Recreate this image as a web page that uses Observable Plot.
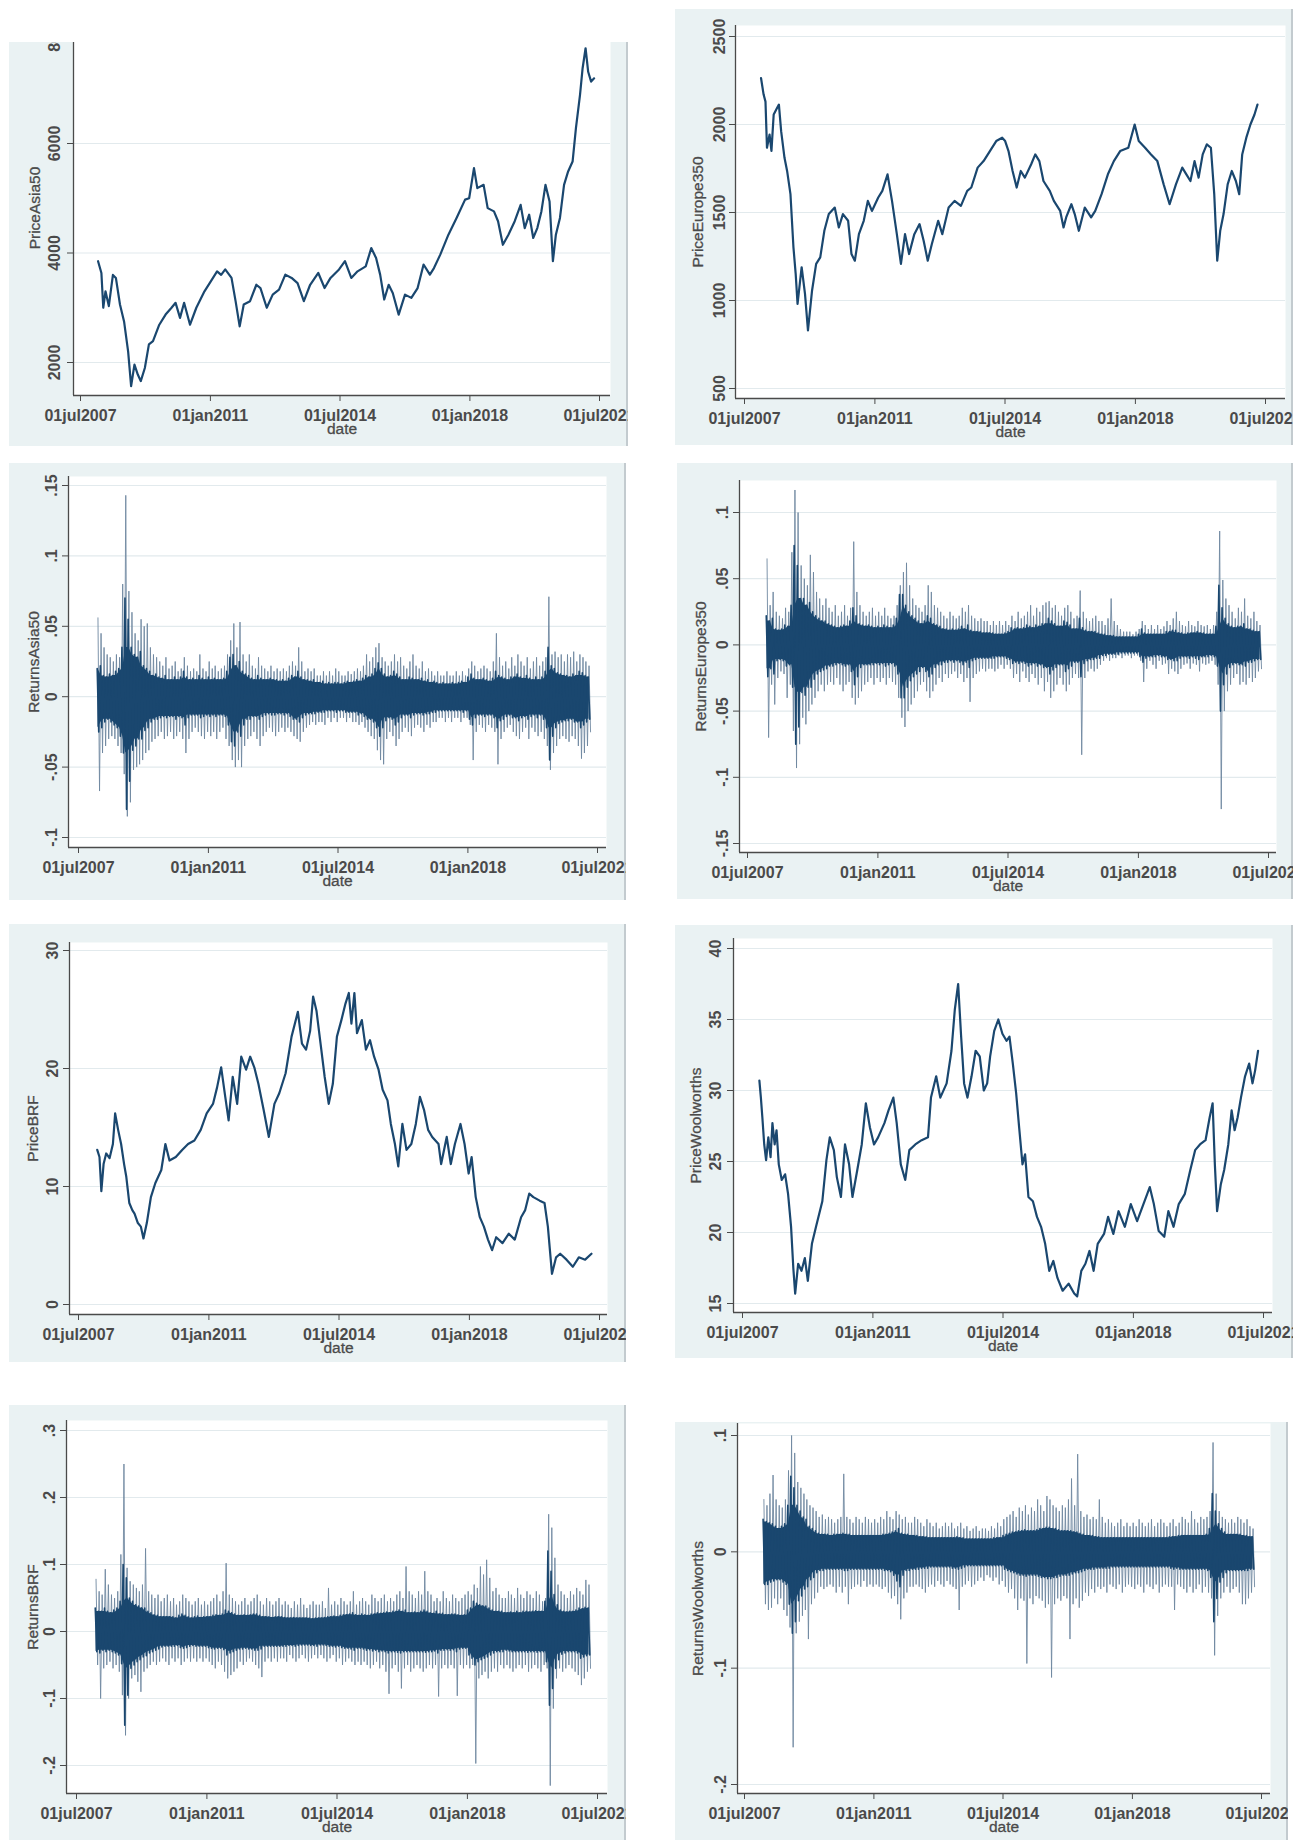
<!DOCTYPE html>
<html><head><meta charset="utf-8">
<script src="https://cdn.jsdelivr.net/npm/d3@7"></script>
<script src="https://cdn.jsdelivr.net/npm/@observablehq/plot@0.6"></script>
<style>
html,body{margin:0;padding:0;background:#fff;}
#page{position:relative;width:1304px;height:1840px;overflow:hidden;background:#fff;}
.panel{position:absolute;overflow:hidden;background:#eaf2f3;box-shadow:inset -2px 0 0 #c3cbcf;}
.panel svg{position:absolute;left:0;}
</style></head><body><div id="page"></div>
<script>
// ---------- x axis ticks ----------
const xTickDates = ["2007-07-01","2011-01-01","2014-07-01","2018-01-01","2021-07-01"];
const xTickLabels = ["01jul2007","01jan2011","01jul2014","01jan2018","01jul2021"];

// ---------- price series: [decimal year, value] ----------
const priceAsia50 = [[2007.97,3850],[2008.06,3635],[2008.11,3000],[2008.17,3300],[2008.26,3030],[2008.37,3600],[2008.45,3545],[2008.56,3060],[2008.67,2750],[2008.78,2200],[2008.86,1570],[2008.95,1960],[2009.04,1780],[2009.12,1660],[2009.23,1900],[2009.34,2330],[2009.45,2390],[2009.62,2690],[2009.79,2875],[2009.95,3000],[2010.06,3090],[2010.18,2815],[2010.29,3090],[2010.45,2690],[2010.62,3000],[2010.84,3300],[2011.07,3545],[2011.18,3665],[2011.29,3600],[2011.40,3700],[2011.57,3545],[2011.68,3120],[2011.79,2660],[2011.90,3060],[2012.07,3120],[2012.24,3420],[2012.35,3360],[2012.52,3000],[2012.68,3240],[2012.85,3330],[2013.02,3605],[2013.19,3545],[2013.35,3450],[2013.52,3120],[2013.69,3420],[2013.91,3635],[2014.08,3360],[2014.24,3545],[2014.47,3700],[2014.63,3850],[2014.80,3545],[2014.97,3665],[2015.19,3755],[2015.34,4090],[2015.47,3910],[2015.58,3605],[2015.69,3150],[2015.81,3420],[2015.92,3270],[2016.08,2875],[2016.25,3240],[2016.42,3180],[2016.59,3360],[2016.75,3790],[2016.92,3605],[2017.03,3725],[2017.20,3970],[2017.42,4335],[2017.64,4640],[2017.87,4975],[2017.98,5000],[2018.11,5550],[2018.20,5185],[2018.37,5245],[2018.48,4820],[2018.65,4760],[2018.76,4580],[2018.89,4150],[2019.04,4335],[2019.21,4580],[2019.37,4880],[2019.48,4455],[2019.60,4700],[2019.71,4275],[2019.82,4455],[2019.93,4760],[2020.04,5245],[2020.15,4940],[2020.24,3850],[2020.32,4335],[2020.43,4640],[2020.54,5245],[2020.65,5490],[2020.77,5670],[2020.86,6280],[2020.97,6890],[2021.04,7375],[2021.12,7740],[2021.19,7310],[2021.27,7130],[2021.35,7190]];

const priceEurope350 = [[2007.94,2264],[2008.01,2170],[2008.06,2130],[2008.10,1868],[2008.17,1943],[2008.22,1850],[2008.28,2057],[2008.37,2094],[2008.42,2113],[2008.48,1962],[2008.57,1811],[2008.64,1736],[2008.73,1604],[2008.81,1302],[2008.87,1151],[2008.92,981],[2008.98,1094],[2009.03,1189],[2009.12,1038],[2009.20,830],[2009.31,1057],[2009.42,1208],[2009.53,1245],[2009.64,1396],[2009.76,1491],[2009.92,1528],[2010.03,1415],[2010.14,1491],[2010.28,1453],[2010.37,1264],[2010.46,1226],[2010.57,1377],[2010.70,1453],[2010.81,1566],[2010.92,1509],[2011.09,1585],[2011.20,1623],[2011.34,1717],[2011.46,1566],[2011.59,1377],[2011.70,1208],[2011.81,1377],[2011.92,1264],[2012.06,1377],[2012.20,1434],[2012.31,1340],[2012.42,1226],[2012.53,1321],[2012.70,1453],[2012.81,1377],[2012.98,1528],[2013.14,1566],[2013.31,1538],[2013.48,1623],[2013.59,1642],[2013.76,1755],[2013.92,1792],[2014.09,1849],[2014.26,1906],[2014.42,1925],[2014.50,1906],[2014.59,1849],[2014.70,1736],[2014.81,1642],[2014.92,1736],[2015.03,1698],[2015.20,1774],[2015.31,1830],[2015.42,1792],[2015.53,1679],[2015.70,1623],[2015.81,1566],[2015.98,1509],[2016.07,1415],[2016.14,1472],[2016.28,1547],[2016.37,1491],[2016.48,1396],[2016.64,1528],[2016.81,1472],[2016.92,1509],[2017.09,1604],[2017.26,1717],[2017.42,1792],[2017.59,1849],[2017.81,1868],[2017.98,2000],[2018.09,1906],[2018.26,1868],[2018.42,1830],[2018.59,1792],[2018.76,1660],[2018.92,1547],[2019.09,1660],[2019.26,1755],[2019.37,1717],[2019.48,1679],[2019.59,1792],[2019.70,1698],[2019.81,1830],[2019.92,1887],[2020.03,1868],[2020.12,1604],[2020.20,1226],[2020.28,1396],[2020.37,1491],[2020.48,1660],[2020.59,1736],[2020.70,1679],[2020.79,1604],[2020.87,1830],[2020.98,1925],[2021.09,2000],[2021.20,2057],[2021.28,2113]];

const priceBRF = [[2008.00,13.1],[2008.06,12.5],[2008.11,9.6],[2008.17,11.9],[2008.24,12.8],[2008.33,12.4],[2008.42,13.6],[2008.48,16.2],[2008.56,14.8],[2008.64,13.6],[2008.72,11.9],[2008.78,10.8],[2008.86,8.6],[2008.94,8.0],[2009.00,7.7],[2009.09,6.9],[2009.17,6.6],[2009.24,5.6],[2009.33,6.9],[2009.44,9.1],[2009.56,10.3],[2009.72,11.4],[2009.83,13.6],[2009.94,12.2],[2010.11,12.5],[2010.28,13.1],[2010.44,13.6],[2010.61,13.9],[2010.78,14.8],[2010.94,16.2],[2011.11,17.0],[2011.22,18.4],[2011.33,20.1],[2011.44,17.6],[2011.53,15.6],[2011.64,19.3],[2011.76,17.0],[2011.87,21.0],[2012.00,19.9],[2012.11,21.0],[2012.22,20.1],[2012.33,18.7],[2012.47,16.5],[2012.61,14.2],[2012.76,17.0],[2012.89,17.9],[2013.06,19.6],[2013.22,22.7],[2013.39,24.8],[2013.50,22.1],[2013.61,21.6],[2013.72,23.2],[2013.80,26.1],[2013.89,24.9],[2014.00,22.1],[2014.11,19.3],[2014.22,17.0],[2014.33,18.7],[2014.44,22.7],[2014.56,24.1],[2014.67,25.5],[2014.76,26.4],[2014.83,23.8],[2014.91,26.4],[2014.98,23.0],[2015.11,24.1],[2015.22,21.6],[2015.33,22.4],[2015.44,21.0],[2015.56,19.9],[2015.67,18.2],[2015.80,17.3],[2015.89,15.3],[2016.00,13.6],[2016.09,11.7],[2016.20,15.3],[2016.31,13.1],[2016.44,13.6],[2016.56,15.3],[2016.67,17.6],[2016.78,16.5],[2016.89,14.8],[2017.00,14.2],[2017.17,13.6],[2017.24,11.9],[2017.39,14.2],[2017.50,11.9],[2017.61,13.6],[2017.76,15.3],[2017.87,13.6],[2017.98,11.1],[2018.06,12.5],[2018.17,9.1],[2018.28,7.4],[2018.39,6.6],[2018.50,5.5],[2018.61,4.6],[2018.72,5.7],[2018.89,5.2],[2019.06,6.0],[2019.22,5.5],[2019.39,7.4],[2019.50,8.0],[2019.61,9.4],[2019.72,9.1],[2019.89,8.8],[2020.02,8.6],[2020.11,6.6],[2020.22,2.6],[2020.33,4.0],[2020.44,4.3],[2020.61,3.8],[2020.78,3.2],[2020.94,4.0],[2021.11,3.8],[2021.28,4.3]];

const priceWoolworths = [[2007.95,30.7],[2007.99,29.5],[2008.03,28.1],[2008.08,26.2],[2008.13,25.1],[2008.19,26.7],[2008.25,25.3],[2008.30,27.7],[2008.36,26.2],[2008.41,27.2],[2008.47,24.8],[2008.55,23.7],[2008.64,24.1],[2008.72,22.7],[2008.80,20.4],[2008.86,17.5],[2008.91,15.7],[2008.99,17.8],[2009.08,17.3],[2009.17,18.2],[2009.25,16.6],[2009.36,19.2],[2009.47,20.4],[2009.64,22.2],[2009.75,25.1],[2009.84,26.7],[2009.95,25.8],[2010.03,23.9],[2010.14,22.5],[2010.25,26.2],[2010.36,24.8],[2010.45,22.5],[2010.58,24.4],[2010.70,26.2],[2010.81,29.1],[2010.92,27.4],[2011.03,26.2],[2011.14,26.7],[2011.31,27.7],[2011.42,28.6],[2011.55,29.5],[2011.64,27.7],[2011.75,24.8],[2011.87,23.7],[2011.98,25.8],[2012.14,26.2],[2012.31,26.5],[2012.48,26.7],[2012.56,29.5],[2012.70,31.0],[2012.81,29.5],[2012.98,30.5],[2013.11,32.8],[2013.20,35.7],[2013.29,37.5],[2013.37,33.8],[2013.45,30.5],[2013.54,29.5],[2013.65,31.0],[2013.76,32.8],[2013.87,32.4],[2013.98,30.0],[2014.07,30.5],[2014.15,32.4],[2014.26,34.2],[2014.37,35.0],[2014.48,34.0],[2014.59,33.5],[2014.67,33.8],[2014.76,31.9],[2014.85,29.8],[2014.93,27.4],[2015.02,24.8],[2015.09,25.5],[2015.18,22.5],[2015.30,22.2],[2015.41,21.1],[2015.52,20.4],[2015.63,19.2],[2015.74,17.3],[2015.85,18.0],[2015.96,16.8],[2016.10,15.9],[2016.26,16.4],[2016.41,15.7],[2016.49,15.5],[2016.60,17.3],[2016.71,17.8],[2016.82,18.7],[2016.93,17.3],[2017.04,19.2],[2017.21,19.9],[2017.32,21.1],[2017.46,19.9],[2017.60,21.5],[2017.77,20.4],[2017.93,22.0],[2018.10,20.8],[2018.27,22.0],[2018.44,23.2],[2018.55,22.0],[2018.68,20.1],[2018.83,19.7],[2018.94,21.5],[2019.08,20.4],[2019.22,22.0],[2019.38,22.7],[2019.53,24.4],[2019.66,25.8],[2019.79,26.2],[2019.94,26.5],[2020.05,28.1],[2020.13,29.1],[2020.19,24.8],[2020.25,21.5],[2020.35,23.4],[2020.44,24.4],[2020.55,26.2],[2020.64,28.6],[2020.72,27.2],[2020.80,28.1],[2020.89,29.5],[2021.00,31.0],[2021.11,31.9],[2021.20,30.5],[2021.27,31.4],[2021.35,32.8]];

// ---------- daily returns, Jan2008..Apr2021, per month (in thousandths) ----------
// extreme up / extreme down moves of each month (light outer spikes)
const asiaRetHigh = [56,45,35,30,28,25,30,28,80,143,75,60, 45,40,55,50,52,35,30,28,25,22,28,20, 22,25,18,20,28,22,18,20,18,30,20,18, 25,20,22,18,20,22,30,40,52,35,53,30, 25,30,22,20,28,22,20,18,22,18,20,18, 20,18,22,25,22,35,25,18,20,18,20,15, 15,18,15,18,15,20,18,15,15,18,16,18, 20,18,22,30,25,28,35,38,28,25,22,25, 30,25,28,22,20,25,30,22,20,25,18,20, 18,15,18,15,15,18,15,15,18,15,18,15, 20,25,22,18,20,22,20,18,25,45,28,22, 25,20,28,22,30,25,22,28,20,25,28,22, 25,28,71,30,32,28,30,25,30,28,32,25, 30,28,25,22];
const asiaRetLow = [67,40,35,30,28,30,35,40,55,85,75,52, 50,48,45,40,38,32,30,28,25,30,28,25, 30,28,25,30,40,30,25,22,25,28,30,25, 28,25,30,25,22,30,35,45,50,45,50,35, 30,28,25,30,35,28,25,22,25,28,25,22, 25,22,25,28,30,32,25,22,20,18,20,18, 18,20,15,18,15,18,15,15,18,15,18,18, 20,18,22,25,28,30,38,45,48,30,25,28, 35,30,25,22,25,28,22,20,22,25,20,22, 18,18,15,15,18,15,18,15,15,18,15,15, 20,45,25,20,22,25,20,22,25,48,30,25, 22,20,25,28,30,25,22,30,22,25,28,25, 30,35,52,40,35,30,28,30,32,28,30,35, 44,40,35,25];
// typical daily range of each month (dense dark band)
const asiaBandHigh = [20,22,15,14,16,15,18,20,35,70,55,35, 30,28,32,22,20,18,15,16,14,13,15,12, 12,14,12,14,18,14,12,13,12,15,13,12, 14,12,13,12,12,13,18,28,30,22,25,18, 16,15,13,12,15,13,12,12,13,12,12,11, 12,11,13,15,14,18,14,12,12,11,12,10, 10,11,9,10,9,10,10,9,10,11,10,11, 12,11,13,15,14,16,20,24,20,16,14,15, 18,16,14,12,12,14,13,12,12,13,11,12, 10,11,10,9,10,9,9,10,9,10,11,10, 14,16,13,12,12,13,12,11,13,18,15,14, 13,12,14,14,16,14,13,15,13,12,14,12, 14,18,35,22,20,17,16,15,15,14,16,15, 18,17,15,14];
const asiaBandLow = [25,22,18,16,18,20,22,28,40,80,60,38, 35,30,30,24,22,18,16,16,15,14,15,14, 14,16,14,15,20,15,13,13,13,15,14,13, 14,13,14,13,13,14,20,32,35,25,28,20, 16,16,14,14,16,14,13,12,13,13,12,12, 13,12,14,16,16,18,15,13,12,12,12,11, 11,11,10,10,10,11,10,10,11,11,11,11, 13,12,14,16,16,18,22,28,22,17,15,16, 20,18,15,13,13,15,13,12,12,13,12,12, 11,11,10,10,10,10,10,10,10,10,11,10, 16,20,15,13,13,14,13,13,15,22,17,16, 14,13,15,15,17,15,14,16,14,13,15,13, 16,22,45,28,22,19,18,17,17,16,18,18, 22,20,18,16];

const europeRetHigh = [65,30,40,25,22,20,28,25,70,117,100,60, 50,45,68,55,40,35,30,35,28,25,30,22, 25,30,22,28,78,40,30,25,22,25,28,22, 25,22,28,22,20,22,30,45,55,62,45,35, 30,28,25,30,45,40,30,28,25,22,20,25, 22,20,22,28,25,30,22,20,18,20,18,18, 15,18,15,18,15,18,15,22,18,25,20,22, 25,30,22,28,25,30,32,33,28,30,25,22, 28,30,25,20,22,41,25,20,18,20,22,18, 18,15,20,35,18,15,12,10,10,10,8,10, 12,18,15,12,15,12,15,12,14,18,15,20, 25,18,15,14,18,15,14,18,15,14,15,12, 15,25,86,49,35,30,25,20,28,25,35,22, 20,25,18,15];
const europeRetLow = [70,30,45,25,20,22,40,30,65,93,75,55, 60,50,45,40,35,30,35,30,28,30,25,30, 35,30,28,40,45,40,35,30,28,25,30,25, 28,25,30,25,28,30,40,55,62,50,45,40, 35,30,28,35,40,35,30,25,28,22,25,22, 20,25,22,28,25,43,25,22,20,18,20,18, 18,20,18,15,18,15,18,25,22,28,20,25, 28,22,25,30,25,35,28,40,35,30,25,30, 35,30,25,22,25,83,25,20,18,20,18,15, 12,10,12,10,10,8,10,8,8,10,8,8, 12,28,18,12,15,18,12,15,14,22,18,20, 22,18,15,14,18,14,15,20,14,15,14,12, 15,30,124,50,35,30,25,22,30,28,30,25, 28,25,20,18];
const europeBandHigh = [22,18,20,12,11,12,15,14,30,75,60,35, 35,30,32,25,22,20,18,18,16,15,14,13, 14,15,14,18,28,22,16,15,14,15,14,13, 14,13,15,14,13,15,20,38,38,30,25,22, 20,18,16,18,22,20,16,15,14,12,12,11, 12,11,12,14,12,15,11,10,10,10,9,9, 9,9,8,8,8,9,10,13,12,13,12,13, 15,14,13,15,14,16,16,20,18,16,14,14, 18,17,15,12,12,20,13,11,10,10,10,9, 8,8,7,7,7,6,6,6,6,6,6,6, 8,12,9,8,8,8,8,8,8,10,10,11, 11,9,9,8,9,9,9,10,9,9,8,8, 8,14,45,28,20,16,14,13,14,14,16,12, 12,11,10,10];
const europeBandLow = [24,18,22,12,11,12,16,15,32,75,62,36, 38,32,32,26,22,20,19,18,16,16,15,14, 15,16,15,20,30,24,17,15,15,15,15,14, 15,14,16,15,14,16,22,40,40,32,27,24, 22,20,17,20,24,22,17,15,15,13,13,12, 13,12,13,15,13,17,12,11,10,10,10,10, 10,10,9,9,9,10,11,14,13,14,13,14, 16,15,14,16,15,17,17,22,19,17,15,15, 20,18,16,13,13,24,14,12,11,11,10,10, 8,8,7,7,7,7,6,6,6,6,6,6, 9,13,10,9,9,9,8,9,9,11,11,12, 12,10,9,9,10,9,10,11,9,9,9,8, 9,16,50,30,22,17,15,14,15,15,16,13, 13,12,11,11];

const brfRetHigh = [78,60,55,93,70,55,50,60,115,250,95,75, 70,65,60,70,124,60,55,50,55,45,50,55, 45,50,40,45,55,50,45,40,45,50,40,45, 40,45,50,55,45,60,102,55,50,45,40,45, 50,40,45,50,55,45,40,50,45,40,45,50, 40,45,40,35,45,40,50,40,35,40,45,40, 40,45,35,65,40,45,40,50,45,40,45,60, 40,45,50,45,40,55,50,45,50,55,45,50, 45,55,60,50,97,60,55,50,60,55,90,60, 55,45,50,45,60,50,45,55,50,45,50,55, 60,55,70,65,97,85,107,80,60,65,55,50, 50,60,55,50,65,55,50,60,55,50,60,55, 45,50,175,155,110,70,60,55,50,60,55,65, 60,55,77,70];
const brfRetLow = [50,100,55,50,45,55,50,60,95,155,100,70, 65,75,90,60,55,50,45,50,45,40,45,50, 40,45,40,50,45,40,45,40,45,40,45,40, 45,50,55,45,50,60,70,65,60,55,45,50, 45,40,45,50,55,68,45,40,45,40,45,40, 40,45,35,40,45,40,35,40,45,40,35,40, 35,40,45,40,35,45,40,50,45,40,45,50, 45,50,45,50,55,50,45,55,50,60,93,55, 50,60,85,55,50,60,55,50,55,60,55,50, 55,50,97,55,50,55,50,55,96,50,55,50, 55,50,197,70,65,60,70,60,55,60,50,55, 50,55,60,55,50,55,50,60,55,50,55,60, 50,55,230,115,70,55,60,55,50,55,60,65, 80,70,60,55];
const brfBandHigh = [35,30,30,35,30,28,32,35,45,100,80,50, 45,40,38,35,35,30,28,25,24,22,22,22, 22,22,20,24,26,24,22,20,22,23,21,22, 22,22,24,25,24,26,32,30,28,26,24,24, 25,24,25,26,26,24,22,22,22,21,22,22, 22,21,20,20,21,20,20,20,20,20,19,20, 20,20,21,22,22,23,22,24,25,25,26,28, 25,24,26,25,24,26,26,28,27,28,29,28, 30,30,32,30,32,28,28,29,28,30,32,30, 28,27,30,26,27,25,25,26,26,25,24,25, 32,35,45,42,40,38,38,35,32,30,30,30, 28,28,29,28,30,28,30,30,29,30,31,30, 30,45,120,90,55,40,32,30,29,30,30,32, 35,34,36,35];
const brfBandLow = [30,32,28,30,28,30,32,35,48,140,95,55, 50,45,42,38,36,32,30,28,26,23,22,22, 22,22,21,24,25,24,22,21,22,22,22,22, 24,25,26,25,25,27,35,32,30,28,26,26, 25,26,26,28,28,26,22,22,22,22,22,22, 22,22,21,21,22,21,20,20,20,21,21,22, 20,20,21,22,22,23,22,24,25,25,26,28, 25,25,26,28,27,29,28,30,29,30,32,30, 30,31,32,30,30,30,30,30,30,30,31,30, 30,29,32,28,28,27,28,27,30,26,25,25, 35,40,50,45,42,40,38,35,32,30,30,30, 28,29,30,30,30,30,30,31,30,30,31,30, 30,45,110,85,55,42,34,32,30,30,30,32, 40,38,36,35];

const woolRetHigh = [45,40,50,66,45,40,38,45,70,100,85,60, 55,50,45,40,38,35,30,32,28,30,28,25, 28,30,67,30,28,25,30,28,25,30,28,25, 28,25,30,28,35,30,28,35,32,28,30,25, 25,30,28,25,22,28,25,22,25,20,22,25, 22,25,20,22,25,20,22,18,20,22,18,20, 20,18,22,20,25,22,28,30,32,35,30,38, 35,40,32,38,35,45,40,35,48,45,40,38, 35,40,38,45,63,40,84,35,30,32,28,30, 28,45,30,25,28,25,22,25,28,22,25,22, 25,22,28,25,22,25,28,22,25,28,25,22, 25,28,22,25,30,28,25,35,28,25,30,28, 30,35,94,50,35,30,28,25,28,25,30,28, 25,28,22,20];
const woolRetLow = [45,50,48,40,45,40,50,55,65,168,70,60, 55,50,75,45,40,35,30,32,30,28,30,35, 30,35,30,45,32,30,28,30,25,30,28,30, 28,30,32,30,35,40,38,45,58,40,35,30, 30,28,30,32,35,30,28,30,25,28,30,25, 28,30,32,50,30,28,25,30,28,25,22,25, 20,22,25,22,28,25,30,35,32,40,50,40, 42,96,40,45,38,40,42,48,45,108,45,40, 42,38,40,75,45,40,48,42,35,38,32,35, 30,32,30,35,28,30,32,28,35,30,28,30, 32,28,30,35,28,30,32,28,35,30,28,30, 30,50,28,30,32,35,30,35,32,28,35,30, 35,40,89,55,40,35,30,35,32,30,35,45, 45,40,35,30];
const woolBandHigh = [28,26,25,24,22,20,22,24,40,65,55,40, 35,30,28,22,20,18,16,15,15,15,14,15, 15,15,16,15,15,14,14,14,14,14,14,14, 14,14,14,15,15,16,17,18,20,16,15,15, 14,14,14,13,13,13,12,12,12,12,12,12, 12,12,12,13,12,12,11,11,11,11,11,11, 11,11,11,12,12,12,14,15,16,17,17,18, 18,19,18,18,18,19,20,20,21,21,20,20, 19,18,18,18,18,17,17,16,15,14,14,14, 13,13,12,12,12,12,12,12,12,12,12,12, 12,12,12,12,12,12,12,12,12,12,12,12, 13,13,13,14,14,14,14,14,14,14,14,14, 15,20,50,35,24,20,17,15,15,15,15,15, 14,14,13,13];
const woolBandLow = [28,28,26,25,24,24,26,28,45,70,60,42, 38,32,30,24,22,18,16,16,15,15,15,15, 15,15,16,16,15,15,15,15,15,15,15,15, 15,15,15,16,16,17,20,25,30,20,16,16, 15,15,15,14,14,14,13,13,13,13,13,13, 13,14,14,15,14,13,12,12,12,12,12,12, 12,12,12,12,12,12,15,16,17,18,19,20, 20,21,20,20,20,21,22,22,23,23,22,22, 21,20,20,20,19,18,18,17,16,15,15,15, 14,14,14,14,14,13,13,13,13,13,13,13, 13,13,13,13,13,13,13,13,13,13,13,13, 14,15,14,15,15,15,15,15,15,15,15,15, 16,22,60,40,26,22,18,16,16,16,16,16, 16,16,15,15];

// ---------- helpers ----------
const NAVY = "#1a476f";
const TXT = "#4a4a4a";
function yearToDate(y){ const yr = Math.floor(y); const a = Date.UTC(yr,0,1), b = Date.UTC(yr+1,0,1); return new Date(a + (y-yr)*(b-a)); }
function monthDate(i, frac){ const a = Date.UTC(2008, i, 1), b = Date.UTC(2008, i+1, 1); return new Date(a + frac*(b-a)); }
function pricePoints(arr){ return arr.map(([y,v]) => ({date: yearToDate(y), v})); }
function zigzag(hi, lo, f1, f2){ const out = []; hi.forEach((h,i) => { out.push({date: monthDate(i,f1), v: h/1000}); out.push({date: monthDate(i,f2), v: -lo[i]/1000}); }); return out; }
// solid inner body of the dark band: the smaller of neighbouring months' band values
function bandBody(hi, lo){
  const n = hi.length, m3 = (a,i) => Math.min(a[Math.max(0,i-1)], a[i], a[Math.min(n-1,i+1)]);
  return hi.map((h,i) => ({date: monthDate(i,0.25), top: m3(hi,i)/1000, bot: -m3(lo,i)/1000}));
}
const fmtNum = v => { if (v === 0) return "0"; const s = String(+v.toFixed(4)); return s.replace(/^(-?)0\./, "$1."); };
const xLabelMap = new Map(xTickDates.map((d,i) => [+new Date(d+"T00:00:00Z"), xTickLabels[i]]));
const xTicks = xTickDates.map(d => new Date(d+"T00:00:00Z"));

// ---------- layout (page pixel geometry) ----------
const panels = [
  {title:"PriceAsia50", price: priceAsia50, yTicks:[2000,4000,6000,8000],
   bg:{x:9,y:42,w:619,h:404}, plot:{l:73,r:610,t:20,b:395}, yCal:[[2000,362],[6000,143]], xCal:[80,599], titleX:35, yGap:14},
  {title:"PriceEurope350", price: priceEurope350, yTicks:[500,1000,1500,2000,2500],
   bg:{x:675,y:9,w:618,h:436}, plot:{l:735,r:1285,t:25,b:398}, yCal:[[500,388],[2500,36]], xCal:[744,1265], titleX:698, yGap:11},
  {title:"ReturnsAsia50", ret:[asiaRetHigh, asiaRetLow, asiaBandHigh, asiaBandLow], yTicks:[-0.1,-0.05,0,0.05,0.1,0.15],
   bg:{x:9,y:463,w:617,h:437}, plot:{l:68,r:606,t:476,b:847}, yCal:[[-0.1,837],[0.15,485]], xCal:[78,597], titleX:34, yGap:12},
  {title:"ReturnsEurope350", ret:[europeRetHigh, europeRetLow, europeBandHigh, europeBandLow], yTicks:[-0.15,-0.1,-0.05,0,0.05,0.1],
   bg:{x:677,y:463,w:616,h:436}, plot:{l:739,r:1276,t:480,b:852}, yCal:[[-0.15,843],[0.1,512]], xCal:[747,1268], titleX:701, yGap:12},
  {title:"PriceBRF", price: priceBRF, yTicks:[0,10,20,30],
   bg:{x:9,y:924,w:617,h:438}, plot:{l:69,r:607,t:942,b:1314}, yCal:[[0,1304],[30,950]], xCal:[78,599], titleX:33, yGap:12},
  {title:"PriceWoolworths", price: priceWoolworths, yTicks:[15,20,25,30,35,40],
   bg:{x:675,y:925,w:618,h:433}, plot:{l:733,r:1272,t:938,b:1312}, yCal:[[15,1303],[40,948]], xCal:[742,1263], titleX:696, yGap:13},
  {title:"ReturnsBRF", ret:[brfRetHigh, brfRetLow, brfBandHigh, brfBandLow], yTicks:[-0.2,-0.1,0,0.1,0.2,0.3],
   bg:{x:9,y:1405,w:617,h:435}, plot:{l:66,r:607,t:1420,b:1793}, yCal:[[-0.2,1765],[0.3,1430]], xCal:[76,597], titleX:33, yGap:12},
  {title:"ReturnsWoolworths", ret:[woolRetHigh, woolRetLow, woolBandHigh, woolBandLow], yTicks:[-0.2,-0.1,0,0.1],
   bg:{x:675,y:1422,w:613,h:418}, plot:{l:737,r:1270,t:1423,b:1793}, yCal:[[-0.2,1784],[0.1,1435]], xCal:[744,1261], titleX:698, yGap:12}
];

const page = document.getElementById("page");
const T1 = Date.UTC(2007,6,1), T2 = Date.UTC(2021,6,1);

for (const cfg of panels) {
  const div = document.createElement("div");
  div.className = "panel";
  Object.assign(div.style, {left: cfg.bg.x+"px", top: cfg.bg.y+"px", width: cfg.bg.w+"px", height: cfg.bg.h+"px"});
  const extra = Math.max(0, cfg.bg.y - cfg.plot.t + 30);
  const W = cfg.bg.w, H = cfg.bg.h + extra;
  const marginLeft = cfg.plot.l - cfg.bg.x;
  const marginRight = cfg.bg.x + cfg.bg.w - cfg.plot.r;
  const marginTop = cfg.plot.t - cfg.bg.y + extra;
  const marginBottom = cfg.bg.y + cfg.bg.h - cfg.plot.b;
  const [[v1,p1],[v2,p2]] = cfg.yCal;
  const vAt = p => v1 + (p - p1) * (v2 - v1) / (p2 - p1);
  const yDomain = [vAt(cfg.plot.b), vAt(cfg.plot.t)];
  const tAt = p => T1 + (p - cfg.xCal[0]) * (T2 - T1) / (cfg.xCal[1] - cfg.xCal[0]);
  const xDomain = [new Date(tAt(cfg.plot.l)), new Date(tAt(cfg.plot.r))];

  const seriesMarks = [];
  if (cfg.price) {
    seriesMarks.push(Plot.line(pricePoints(cfg.price), {x:"date", y:"v", stroke: NAVY, strokeWidth: 2.2, strokeLinejoin:"round"}));
  } else {
    const [hi, lo, bhi, blo] = cfg.ret;
    seriesMarks.push(Plot.line(zigzag(hi, lo, 0.25, 0.75), {x:"date", y:"v", stroke:"#6f88a0", strokeWidth:0.9}));
    seriesMarks.push(Plot.areaY(bandBody(bhi, blo), {x:"date", y1:"bot", y2:"top", fill: NAVY}));
    seriesMarks.push(Plot.line(zigzag(bhi, blo, 0.0, 0.5), {x:"date", y:"v", stroke: NAVY, strokeWidth:1.6}));
  }

  const svg = Plot.plot({
    width: W, height: H, marginLeft, marginRight, marginTop, marginBottom,
    x: {type:"utc", domain: xDomain},
    y: {domain: yDomain},
    style: {background:"transparent", fontFamily:"'Liberation Sans', Arial, sans-serif", fontSize:"15px", color:TXT},
    marks: [
      Plot.frame({fill:"white", stroke:"none"}),
      Plot.gridY(cfg.yTicks, {stroke:"#e2eaed", strokeOpacity:1, strokeWidth:1.2}),
      ...seriesMarks,
      Plot.ruleX([xDomain[0]], {stroke:"#4a4a4a", strokeWidth:1.3}),
      Plot.ruleY([yDomain[0]], {stroke:"#4a4a4a", strokeWidth:1.3}),
      Plot.axisY(cfg.yTicks, {tickSize:6, tickPadding: cfg.yGap - 6, tickRotate:-90, tickFormat: fmtNum, fontSize:16, fontWeight:"bold", color:TXT, label:null}),
      Plot.axisX(xTicks, {tickSize:6, tickPadding:8, tickFormat: d => xLabelMap.get(+d), fontSize:16, fontWeight:"bold", color:TXT, label:null}),
      Plot.text(["date"], {frameAnchor:"bottom", dy:34, fontSize:15.5, fill:TXT, stroke:TXT, strokeWidth:0.3, lineAnchor:"middle", textAnchor:"middle"}),
      Plot.text([cfg.title], {frameAnchor:"left", dx: cfg.titleX - cfg.plot.l, rotate:-90, fontSize:15.5, fill:TXT, stroke:TXT, strokeWidth:0.3, textAnchor:"middle", lineAnchor:"middle"})
    ]
  });
  svg.style.top = (-extra) + "px";
  div.appendChild(svg);
  page.appendChild(div);
}
</script></body></html>
